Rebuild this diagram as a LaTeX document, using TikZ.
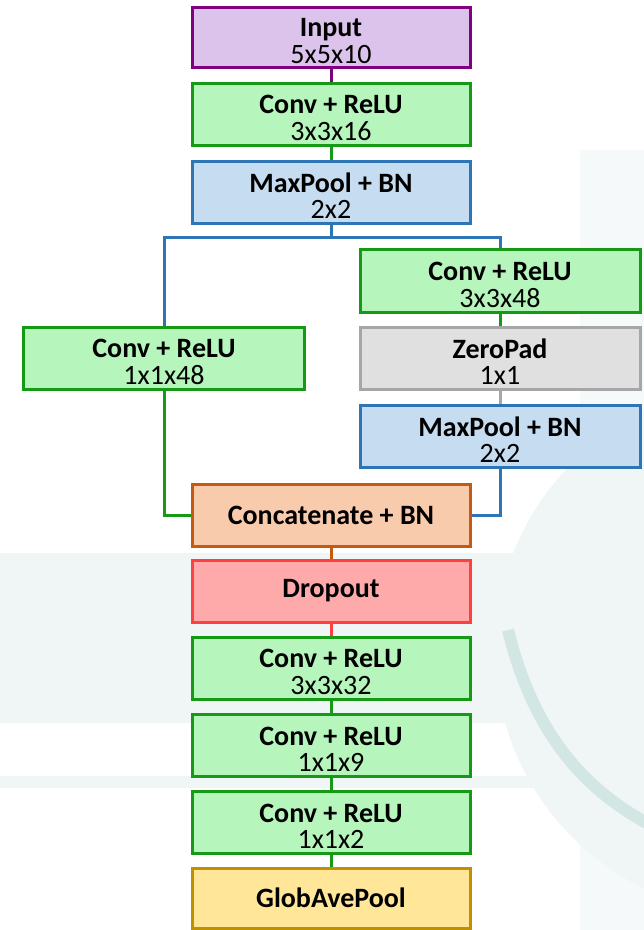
\documentclass[tikz,border=0pt]{standalone}
\usepackage{fontspec}
\setmainfont{Carlito}
% two-line label: bold layer name over its size
\newcommand{\layertxt}[2]{\rule{0pt}{26.5pt}\textbf{#1}\\#2}
\begin{document}
\begin{tikzpicture}[x=1pt,y=-1pt,
  layer/.style={draw=#1, line width=3pt, minimum width=278pt, minimum height=62pt,
    inner sep=0pt, align=center, font=\fontsize{28}{26.5}\selectfont, text=black},
  wide/.style={minimum width=280pt},
  link/.style={draw=#1, line width=3pt, line join=miter}
]
\definecolor{inFill}{HTML}{DCC3EB}\definecolor{inLine}{HTML}{800080}
\definecolor{convFill}{HTML}{B6F5BB}\definecolor{convLine}{HTML}{169A16}
\definecolor{poolFill}{HTML}{C6DCF0}\definecolor{poolLine}{HTML}{2E75B6}
\definecolor{padFill}{HTML}{E0E0E0}\definecolor{padLine}{HTML}{A6A6A6}
\definecolor{catFill}{HTML}{F7CBAC}\definecolor{catLine}{HTML}{C55A11}
\definecolor{dropFill}{HTML}{FFAAAA}\definecolor{dropLine}{HTML}{FF4040}
\definecolor{gapFill}{HTML}{FFE699}\definecolor{gapLine}{HTML}{BF9000}
\definecolor{haze}{HTML}{F0F5F5}\definecolor{globe}{HTML}{D2E6E4}

% canvas
\fill[white] (0,0) rectangle (644,930);
\useasboundingbox (0,0) rectangle (644,930);

% faint backdrop
\begin{scope}
  \clip (0,0) rectangle (644,930);
  \fill[haze] (0,553) rectangle (644,723);
  \fill[haze] (0,776) rectangle (644,788);
  \fill[haze!60] (580,150) rectangle (644,930);
  \fill[haze] (760,650) circle (265);
  \draw[globe, line width=12pt] (508,630) .. controls (535,740) and (590,795) .. (660,830);
\end{scope}

% main column
\node[layer=inLine, fill=inFill, minimum height=60pt] (in) at (331,37)
  {\layertxt{Input}{5x5x10}};
\node[layer=convLine, fill=convFill] (c1) at (331,114)
  {\layertxt{Conv + ReLU}{3x3x16}};
\node[layer=poolLine, fill=poolFill] (mp1) at (331,192)
  {\layertxt{MaxPool + BN}{2x2}};

% left branch
\node[layer=convLine, fill=convFill, minimum width=281pt] (lc) at (164,358)
  {\layertxt{Conv + ReLU}{1x1x48}};

% right branch
\node[layer=convLine, fill=convFill, wide, minimum height=63pt] (rc) at (500,281)
  {\layertxt{Conv + ReLU}{3x3x48}};
\node[layer=padLine, fill=padFill, wide] (zp) at (500,358)
  {\layertxt{ZeroPad}{1x1}};
\node[layer=poolLine, fill=poolFill, wide] (mp2) at (500,436)
  {\layertxt{MaxPool + BN}{2x2}};

% merged column
\node[layer=catLine, fill=catFill] (cat) at (331,515) {\textbf{Concatenate + BN}};
\node[layer=dropLine, fill=dropFill] (dr) at (331,591) {\textbf{Dropout}};
\node[layer=convLine, fill=convFill] (c2) at (331,668)
  {\layertxt{Conv + ReLU}{3x3x32}};
\node[layer=convLine, fill=convFill] (c3) at (331,745)
  {\layertxt{Conv + ReLU}{1x1x9}};
\node[layer=convLine, fill=convFill] (c4) at (331,822)
  {\layertxt{Conv + ReLU}{1x1x2}};
\node[layer=gapLine, fill=gapFill, minimum height=60pt] (gp) at (331,898)
  {\textbf{GlobAvePool}};

% connectors, each in the colour of the layer above it
\draw[link=inLine] (in.south) -- (c1.north);
\draw[link=convLine] (c1.south) -- (mp1.north);
\coordinate (split) at (331,237);
\draw[link=poolLine] (mp1.south) -- (split);
\draw[link=poolLine] (split) -| (lc.north);
\draw[link=poolLine] (split) -| (rc.north);
\draw[link=convLine] (rc.south) -- (zp.north);
\draw[link=padLine] (zp.south) -- (mp2.north);
\draw[link=convLine] (lc.south) |- (cat.west);
\draw[link=poolLine] (mp2.south) |- (cat.east);
\draw[link=catLine] (cat.south) -- (dr.north);
\draw[link=dropLine] (dr.south) -- (c2.north);
\draw[link=convLine] (c2.south) -- (c3.north);
\draw[link=convLine] (c3.south) -- (c4.north);
\draw[link=convLine] (c4.south) -- (gp.north);
\end{tikzpicture}
\end{document}
